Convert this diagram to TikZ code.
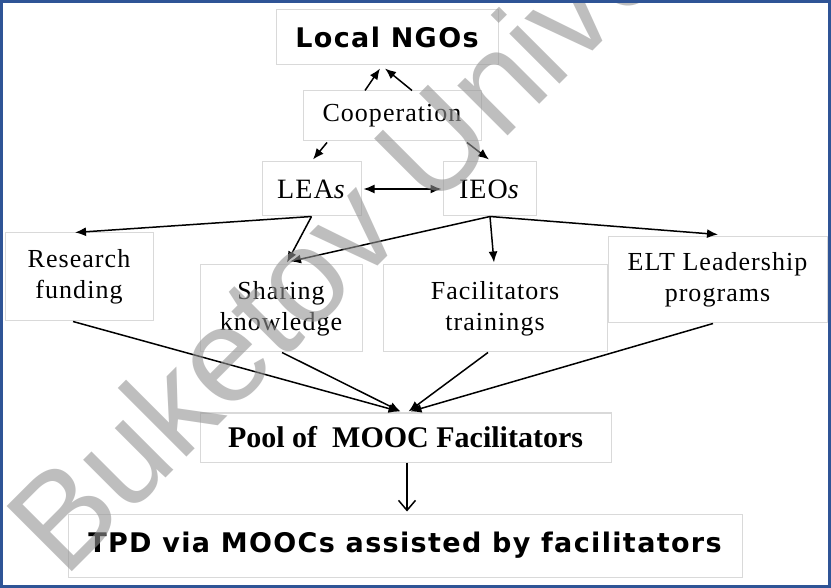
\documentclass[tikz,border=0pt]{standalone}
\usepackage{fontspec}
\usetikzlibrary{arrows.meta}
\newfontfamily\hsans[LetterSpace=5]{DejaVu Sans}
\newfontfamily\serifsp[LetterSpace=4]{Liberation Serif}
\newfontfamily\serifb{Liberation Serif}
\newfontfamily\wmfont{Liberation Sans}
\definecolor{outerblue}{HTML}{2F5496}
\definecolor{boxgray}{HTML}{D9D9D9}
\begin{document}
\begin{tikzpicture}[x=1pt,y=-1pt,
  box/.style={draw=boxgray, line width=1pt, rectangle, inner sep=0pt, align=center},
  sertext/.style={font=\serifsp\fontsize{26}{31}\selectfont},
  bigser/.style={font=\serifsp\fontsize{28}{31}\selectfont},
  arr/.style={line width=1.5pt, -{Latex[length=11pt,width=9pt]}},
  barr/.style={line width=1.5pt, {Latex[length=11pt,width=9pt]}-{Latex[length=11pt,width=9pt]}},
  openarr/.style={line width=1.5pt, -{Straight Barb[length=10pt,width=17pt]}}]
\useasboundingbox (0,0) rectangle (831,588);
\fill[white] (0,0) rectangle (831,588);

% boxes
\node[box, minimum width=222pt, minimum height=55pt] (ngo) at (387,37.5)
  {\hsans\bfseries\fontsize{27}{32}\selectfont Local NGOs};
\node[box, sertext, minimum width=178pt, minimum height=50pt] (coop) at (392,116) {Cooperation};
\node[box, bigser, minimum width=99pt, minimum height=54pt] (leas) at (311.5,189) {LEA\textit{s}};
\node[box, bigser, minimum width=93pt, minimum height=54pt] (ieos) at (489.5,189) {IEO\textit{s}};
\node[box, sertext, minimum width=148pt, minimum height=88pt] (res) at (79,277) {Research\\funding};
\node[box, sertext, minimum width=162pt, minimum height=87pt] (share) at (281,308.5) {Sharing\\knowledge};
\node[box, sertext, minimum width=224pt, minimum height=87pt] (fac) at (495,308.5) {Facilitators\\trainings};
\node[box, sertext, minimum width=219pt, minimum height=86pt] (elt) at (717.5,280) {ELT Leadership\\programs};
\node[box, minimum width=411pt, minimum height=49pt] (pool) at (405.5,437.5)
  {\serifb\bfseries\fontsize{30}{34}\selectfont Pool of~ MOOC Facilitators};
\node[box, minimum width=674pt, minimum height=63pt] (tpd) at (405,545.5)
  {\hsans\bfseries\fontsize{27}{32}\selectfont TPD via MOOCs assisted by facilitators};

% connectors
\draw[arr] ([xshift=-27pt]coop.north) -- ([xshift=-7pt,yshift=-3pt]ngo.south);
\draw[arr] ([xshift=20pt]coop.north) -- ([xshift=-2pt,yshift=-3pt]ngo.south);
\draw[arr] ([xshift=-65pt,yshift=-1pt]coop.south) -- ([xshift=1.5pt,yshift=2pt]leas.north);
\draw[arr] ([xshift=75pt,yshift=-1pt]coop.south) -- ([xshift=-0.5pt,yshift=2pt]ieos.north);
\draw[barr] ([xshift=2pt]leas.east) -- ([xshift=-1pt]ieos.west);

\coordinate (lb) at (leas.south);
\coordinate (ib) at ([xshift=0.5pt]ieos.south);
\draw[arr] (lb) -- ([xshift=-4pt]res.north);
\draw[arr] (lb) -- ([xshift=6pt,yshift=2pt]share.north);
\draw[arr] (ib) -- ([xshift=9pt,yshift=3pt]share.north);
\draw[arr] (ib) -- ([xshift=-1pt,yshift=2pt]fac.north);
\draw[arr] (ib) -- ([xshift=0.5pt,yshift=2pt]elt.north);

\draw[arr] ([xshift=-6pt]res.south) -- ([xshift=-6pt,yshift=1pt]pool.north);
\draw[arr] ([xshift=1pt]share.south) -- ([xshift=-5pt,yshift=1pt]pool.north);
\draw[arr] ([xshift=-7pt]fac.south) -- ([xshift=3pt,yshift=1pt]pool.north);
\draw[arr] ([xshift=-4.5pt]elt.south) -- ([xshift=5pt,yshift=1pt]pool.north);
\draw[openarr] ([xshift=1.5pt]pool.south) -- ([xshift=2pt,yshift=2pt]tpd.north);

% watermark
\begin{scope}
\clip (0,0) rectangle (831,588);
\node[rotate=45, anchor=base west, inner sep=0pt, text=black!42, opacity=0.6,
  font=\wmfont\fontsize{134}{134}\selectfont] (wm) at (64,580) {Buketov University};
\end{scope}

% outer frame
\draw[outerblue, line width=2.5pt] (1.5,1.5) rectangle (829.5,586.5);
\end{tikzpicture}
\end{document}
